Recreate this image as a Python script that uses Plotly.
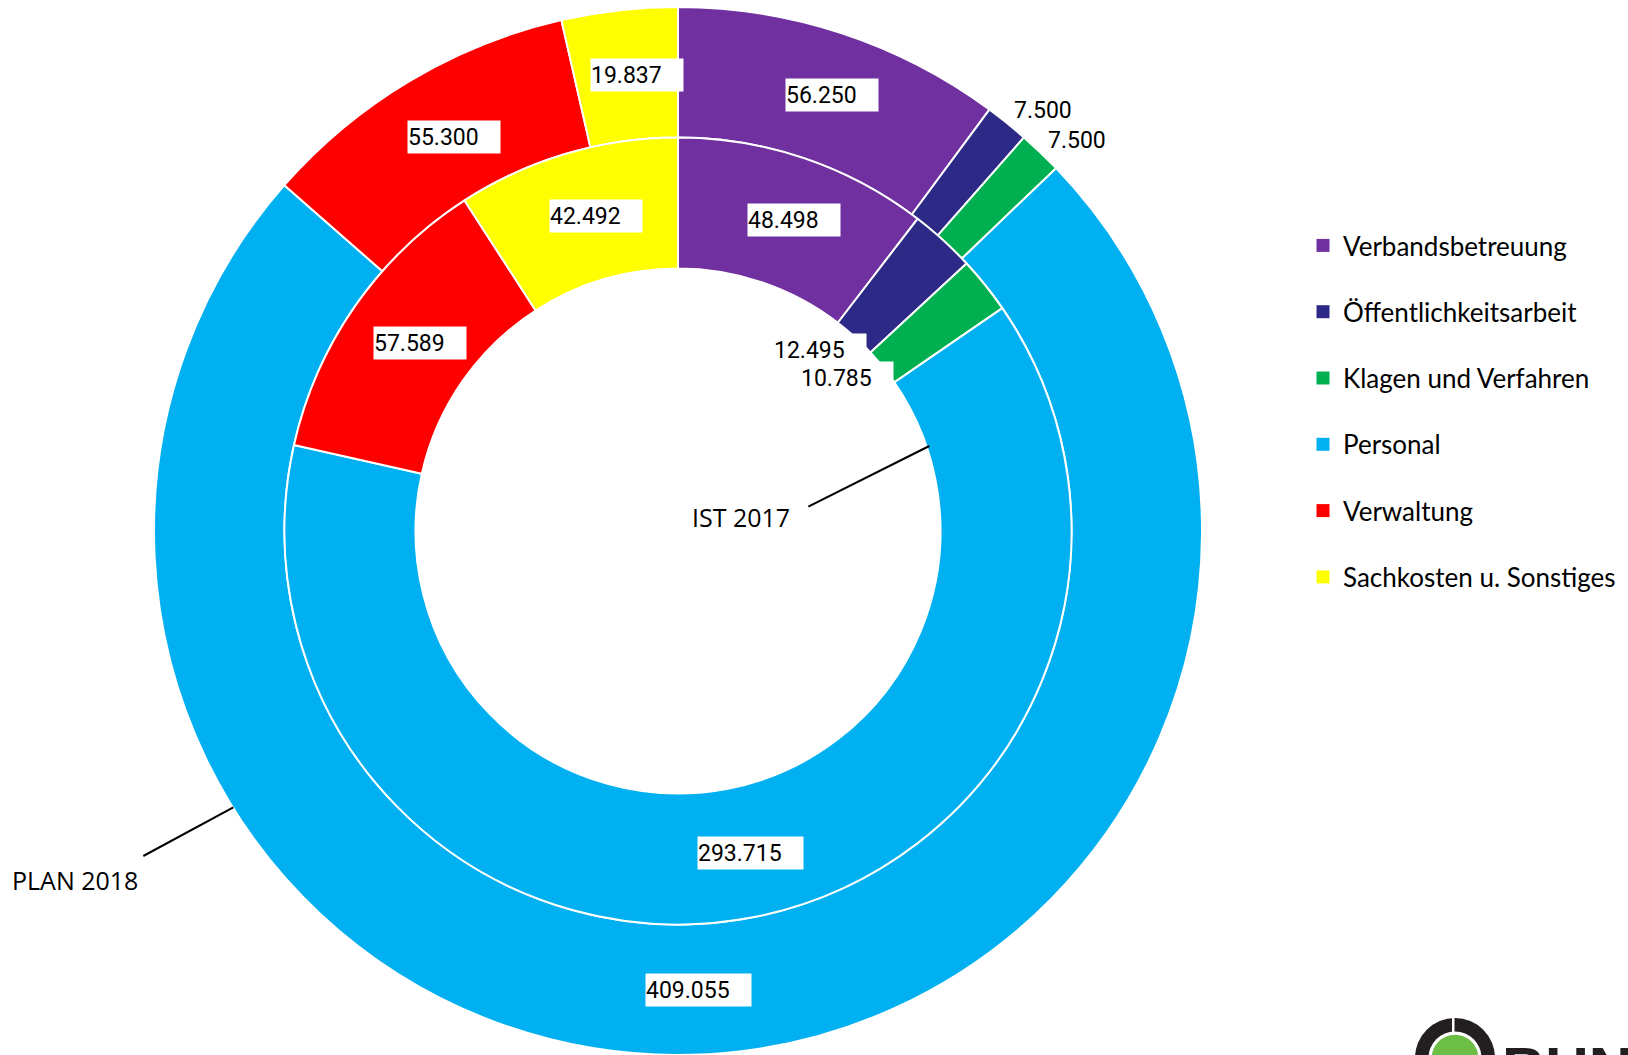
import math
import plotly.graph_objects as go

# ---------------- data ----------------
categories = ["Verbandsbetreuung", "Öffentlichkeitsarbeit", "Klagen und Verfahren",
              "Personal", "Verwaltung", "Sachkosten u. Sonstiges"]
plan_2018 = [56.250, 7.500, 7.500, 409.055, 55.300, 19.837]
ist_2017 = [48.498, 12.495, 10.785, 293.715, 57.589, 42.492]
plan_labels = ["56.250", "7.500", "7.500", "409.055", "55.300", "19.837"]
ist_labels = ["48.498", "12.495", "10.785", "293.715", "57.589", "42.492"]
series_names = ["PLAN 2018", "IST 2017"]
colors = ["#7030A0", "#2D2A87", "#00B050", "#00B0F0", "#FF0000", "#FFFF00"]

# ---------------- geometry (pixels) ----------------
W, H = 1628, 1055
CX, CY = 678.0, 531.0
R_OUT, R_MID, R_IN = 524.0, 393.5, 262.5


def px(x, y):
    return x / W, 1 - y / H


def polar(theta, r):
    t = math.radians(theta)
    return CX + r * math.sin(t), CY - r * math.cos(t)


def dom(r):
    return dict(x=[(CX - r) / W, (CX + r) / W],
                y=[max(0.0, (H - CY - r) / H), min(1.0, (H - CY + r) / H)])


fig = go.Figure()
fig.add_trace(go.Pie(
    values=plan_2018, labels=categories, name=series_names[0],
    hole=R_MID / R_OUT, sort=False, direction="clockwise", rotation=0,
    marker=dict(colors=colors, line=dict(color="white", width=2)),
    textinfo="none", showlegend=False, domain=dom(R_OUT)))
fig.add_trace(go.Pie(
    values=ist_2017, labels=categories, name=series_names[1],
    hole=R_IN / R_MID, sort=False, direction="clockwise", rotation=0,
    marker=dict(colors=colors, line=dict(color="white", width=2)),
    textinfo="none", showlegend=False, domain=dom(R_MID)))

# legend entries
for cat, col in zip(categories, colors):
    fig.add_trace(go.Scatter(x=[None], y=[None], mode="markers", name=cat,
                             legendgroup=cat,
                             marker=dict(symbol="square", size=13, color=col)))

# ---------------- value labels ----------------
LFONT = dict(family="Roboto", size=23, color="black")


def text_w(s):
    return sum(12.93 if c.isdigit() else 6.05 for c in s)


annotations = []


def add_label(s, left_px, y_px):
    tw = text_w(s)
    x, y = px(left_px, y_px)
    annotations.append(dict(
        x=x, y=y, xref="paper", yref="paper", xanchor="left", yanchor="middle",
        text=s, showarrow=False, font=LFONT, bgcolor="white", borderpad=0,
        width=tw + 21, height=32, align="left"))


def ring_labels(vals, labs, r_mid, small_mode, r_small):
    total = sum(vals)
    start = 0.0
    for v, s in zip(vals, labs):
        span = v / total * 360
        mid = start + span / 2
        tw = text_w(s)
        if v / total < 0.03:
            x, y = polar(mid, r_small)
            if small_mode == "outside":
                add_label(s, x - 5, y)
            else:
                add_label(s, x - tw - 1, y + 2)
        else:
            x, y = polar(mid, r_mid)
            add_label(s, x - tw / 2 - 1, y)
        start += span


ring_labels(plan_2018, plan_labels, (R_MID + R_OUT) / 2, "outside", R_OUT + 17)
ring_labels(ist_2017, ist_labels, (R_IN + R_MID) / 2, "inside", R_IN - 15)

# series name labels with leader lines
SFONT = dict(family="Open Sans", size=25, color="black")
for name, (tx, ty) in zip(series_names, [(74.7, 880), (741, 517)]):
    x, y = px(tx, ty)
    annotations.append(dict(x=x, y=y, xref="paper", yref="paper", text=name,
                            showarrow=False, font=SFONT,
                            xanchor="center", yanchor="middle"))

shapes = []
for (x0, y0), (x1, y1) in [((143.3, 856), (233.3, 807.3)),
                           ((808.3, 506.7), (929.3, 446))]:
    a0, b0 = px(x0, y0)
    a1, b1 = px(x1, y1)
    shapes.append(dict(type="line", xref="paper", yref="paper",
                       x0=a0, y0=b0, x1=a1, y1=b1,
                       line=dict(color="black", width=2)))

# ---------------- partial logo (bottom right) ----------------
LX, LY = 1455, 1058


def circle(r, col):
    x0, y0 = px(LX - r, LY + r)
    x1, y1 = px(LX + r, LY - r)
    return dict(type="circle", xref="paper", yref="paper", x0=x0, y0=y0,
                x1=x1, y1=y1, fillcolor=col, line=dict(width=0), layer="above")


shapes += [circle(40, "#231F20"), circle(26.5, "white"), circle(23.3, "#6DBE45")]
gx0, gy0 = px(1452, 1035)
gx1, gy1 = px(1454.5, 1010)
shapes.append(dict(type="rect", xref="paper", yref="paper", x0=gx0, y0=gy0,
                   x1=gx1, y1=gy1, fillcolor="white", line=dict(width=0),
                   layer="above"))
bx, by = px(1500, 1033)
annotations.append(dict(x=bx, y=by, xref="paper", yref="paper", text="<b>BUND</b>",
                        showarrow=False, xanchor="left", yanchor="top",
                        font=dict(family="Liberation Sans", size=60, color="#231F20")))

lx, ly = px(1303, 222)
fig.update_layout(
    width=W, height=H, margin=dict(l=0, r=0, t=0, b=0, autoexpand=False),
    paper_bgcolor="white", plot_bgcolor="white",
    xaxis=dict(visible=False), yaxis=dict(visible=False),
    showlegend=True,
    legend=dict(x=lx, y=ly, xanchor="left", yanchor="top",
                font=dict(family="Lato", size=26, color="black"),
                tracegroupgap=29.5, bgcolor="rgba(0,0,0,0)", borderwidth=0),
    annotations=annotations, shapes=shapes)

fig.write_html("out.html", config={"displayModeBar": False},
               post_script="document.body.style.margin='0px';"
                           "document.body.style.overflow='hidden';")
